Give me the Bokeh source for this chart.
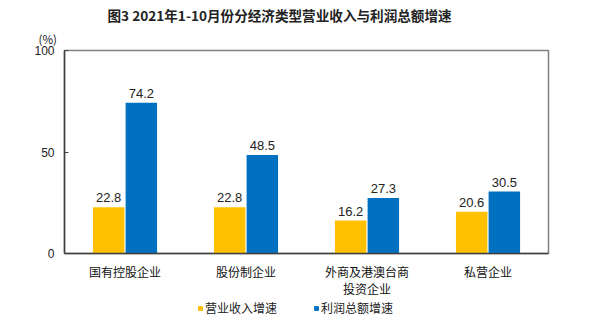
from bokeh.plotting import figure
from bokeh.layouts import column
from bokeh.models import (ColumnDataSource, FactorRange, Legend, LegendItem, FixedTicker, Title)
from bokeh.transform import dodge
from bokeh.core.properties import value
from bokeh.embed import file_html
from bokeh.resources import INLINE

categories = ["国有控股企业\n ", "股份制企业\n ", "外商及港澳台商\n投资企业", "私营企业\n "]
revenue_growth = [22.8, 22.8, 16.2, 20.6]
profit_growth = [74.2, 48.5, 27.3, 30.5]
series_names = ["营业收入增速", "利润总额增速"]
y_ticks = [0, 50, 100]
title_text = "图3  2021年1-10月份分经济类型营业收入与利润总额增速"
unit_text = "(%)"

FONT = "Noto Sans CJK SC"
YELLOW = "#FFC000"
BLUE = "#0070C0"

src = ColumnDataSource(dict(
    cat=categories,
    rev=revenue_growth,
    prof=profit_growth,
    rev_lbl=[f"{v:.1f}" for v in revenue_growth],
    prof_lbl=[f"{v:.1f}" for v in profit_growth],
))

p = figure(width=600, height=299, x_range=FactorRange(*categories), y_range=(0, 100),
           output_backend="svg", toolbar_location=None,
           min_border_left=64, min_border_right=52, min_border_top=50, min_border_bottom=40)
p.background_fill_color = "white"
p.border_fill_color = "white"
p.outline_line_color = "#808080"
p.outline_line_width = 1.5
p.xgrid.visible = False
p.ygrid.visible = False

r1 = p.vbar(x=dodge("cat", -0.135, range=p.x_range), top="rev", width=0.26, source=src,
            fill_color=YELLOW, line_color=None)
r2 = p.vbar(x=dodge("cat", 0.135, range=p.x_range), top="prof", width=0.26, source=src,
            fill_color=BLUE, line_color=None)

for col, lbl, off in (("rev", "rev_lbl", -0.135), ("prof", "prof_lbl", 0.135)):
    p.text(x=dodge("cat", off, range=p.x_range), y=col, text=lbl, source=src,
           text_align="center", text_baseline="bottom", y_offset=-5,
           text_font=value("Liberation Sans"), text_font_size="13px", text_color="#222222")

# y axis
p.yaxis.ticker = FixedTicker(ticks=y_ticks)
p.yaxis.major_tick_in = 4
p.yaxis.major_tick_out = 0
p.yaxis.minor_tick_line_color = None
p.yaxis.axis_line_color = "#404040"
p.yaxis.axis_line_width = 1.5
p.yaxis.major_tick_line_color = "#404040"
p.yaxis.major_label_text_font = "Liberation Sans"
p.yaxis.major_label_text_font_size = "12px"
p.yaxis.major_label_text_color = "#222222"
p.yaxis.major_label_standoff = 10

# x axis
xa = p.xaxis[0]
xa.major_tick_line_color = None
xa.minor_tick_line_color = None
xa.axis_line_color = "#404040"
xa.axis_line_width = 1.5
xa.major_label_text_font = FONT
xa.major_label_text_font_size = "12px"
xa.major_label_text_line_height = 1.0
xa.major_label_text_color = "#111111"
xa.major_label_standoff = 3

# unit label and title
p.add_layout(Title(text=unit_text, align="left", offset=-26, standoff=7,
                   text_font=FONT, text_font_size="11.5px", text_font_style="normal",
                   text_line_height=1.0, text_color="#222222"), "above")
p.title.text = title_text
p.title.align = "left"
p.title.offset = 43
p.title.standoff = 2
p.title.text_font = FONT
p.title.text_font_size = "13.6px"
p.title.text_font_style = "bold"
p.title.text_line_height = 1.0
p.title.text_color = "#222222"

# legend strip
p2 = figure(width=600, height=36, output_backend="svg", toolbar_location=None,
            x_range=(0, 1), y_range=(0, 1),
            min_border=0, x_axis_location=None, y_axis_location=None)
p2.outline_line_color = None
p2.xgrid.visible = False
p2.ygrid.visible = False
p2.background_fill_color = "white"
p2.border_fill_color = "white"
nan = float("nan")
d1 = p2.vbar(x=[nan], top=[nan], width=1, fill_color=YELLOW, line_color=None)
d2 = p2.vbar(x=[nan], top=[nan], width=1, fill_color=BLUE, line_color=None)
legend = Legend(items=[LegendItem(label=series_names[0], renderers=[d1]),
                       LegendItem(label=series_names[1], renderers=[d2])],
                orientation="horizontal", location=(133, 19),
                glyph_width=6, glyph_height=6, label_height=12, label_text_font=FONT,
                label_text_font_size="12px", label_text_color="#222222",
                spacing=36, padding=0, margin=0, label_standoff=2,
                border_line_color=None, background_fill_alpha=0)
p2.add_layout(legend, "center")

layout = column(p, p2, spacing=0)
open("out.html", "w").write(file_html(layout, INLINE))
